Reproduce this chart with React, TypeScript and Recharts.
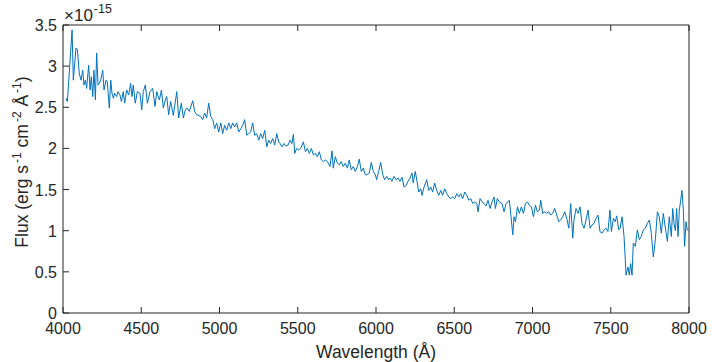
import { LineChart, Line, XAxis, YAxis } from "recharts";

// wavelength in Å, flux in units of 1e-15 erg s^-1 cm^-2 Å^-1
const wavelength = [
  4019, 4028, 4058, 4066, 4083, 4092, 4104, 4115, 4126, 4134, 4143, 4151, 4164, 4173, 4181, 4190,
  4198, 4207, 4215, 4224, 4232, 4241, 4254, 4262, 4275, 4283, 4296, 4305, 4313, 4322, 4330, 4343,
  4351, 4364, 4373, 4385, 4394, 4407, 4420, 4432, 4441, 4449, 4462, 4475, 4492, 4503, 4513, 4526,
  4539, 4556, 4573, 4588, 4599, 4616, 4629, 4641, 4654, 4663, 4675, 4688,
  4705, 4727, 4739, 4756, 4769, 4782, 4794, 4807, 4829, 4841, 4854, 4880, 4893, 4905, 4918, 4931,
  4944, 4957, 4969, 4982, 4995, 5008, 5020, 5033, 5046, 5059, 5072, 5084, 5097, 5110, 5123, 5136,
  5148, 5161, 5174, 5187, 5199, 5212, 5225, 5238, 5251, 5263, 5276, 5289, 5302, 5314, 5327, 5340,
  5353, 5366, 5378,
  5387, 5399, 5412, 5425, 5438, 5451, 5463, 5472, 5481, 5493, 5506, 5519, 5536, 5549, 5561, 5574,
  5587, 5600, 5612, 5625, 5638, 5651, 5663, 5676, 5689, 5706, 5719, 5727, 5740, 5753, 5766, 5778,
  5791, 5804, 5817, 5829, 5842, 5855, 5868, 5881, 5893, 5906, 5919, 5932, 5944, 5957, 5970, 5983,
  5996, 6004, 6017, 6030, 6043, 6055, 6068, 6081,
  6090, 6102, 6115, 6128, 6141, 6153, 6166, 6179, 6192, 6205, 6217, 6230, 6238, 6251, 6264, 6273,
  6286, 6294, 6307, 6324, 6337, 6350, 6362, 6375, 6388, 6401, 6414, 6426, 6439, 6452, 6465, 6478,
  6490, 6503, 6516, 6529, 6542, 6554, 6567, 6580, 6593, 6606, 6618, 6631, 6644, 6652, 6665, 6678,
  6690, 6703, 6716, 6729, 6741, 6754, 6763, 6775, 6788,
  6805, 6818, 6831, 6844, 6852, 6865, 6874, 6882, 6891, 6904, 6916, 6929, 6942, 6955, 6968, 6980,
  6993, 7006, 7019, 7031, 7044, 7053, 7065, 7078, 7091, 7104, 7116, 7129, 7142, 7155, 7168, 7180,
  7193, 7206, 7219, 7232, 7244, 7257, 7265, 7278, 7291, 7304, 7316, 7329, 7342, 7355, 7368, 7380,
  7393, 7406, 7419, 7431, 7444, 7457, 7470, 7482, 7495, 7504, 7517, 7529, 7538, 7551,
  7560, 7572, 7585, 7598, 7610, 7619, 7627, 7636, 7644, 7657, 7670, 7683, 7695, 7708, 7721, 7734,
  7747, 7759, 7772, 7785, 7798, 7810, 7823, 7836, 7849, 7862, 7874, 7887, 7896, 7904, 7913, 7921,
  7930, 7938, 7947, 7955, 7964, 7972, 7981, 7989, 7997,
];

const flux = [
  2.61, 2.57, 3.44, 2.83, 3.22, 3.2, 2.91, 2.83, 2.95, 2.77, 2.83, 2.73, 3.01, 2.71, 2.87, 2.63,
  2.95, 2.59, 3.16, 2.77, 2.79, 2.83, 2.95, 2.71, 2.83, 2.81, 2.49, 2.83, 2.67, 2.61, 2.67, 2.63,
  2.69, 2.65, 2.57, 2.69, 2.55, 2.71, 2.65, 2.79, 2.63, 2.77, 2.55, 2.69, 2.67, 2.47, 2.69, 2.77,
  2.55, 2.69, 2.73, 2.51, 2.69, 2.59, 2.71, 2.49, 2.59, 2.63, 2.41, 2.57,
  2.4, 2.69, 2.37, 2.55, 2.37, 2.47, 2.49, 2.45, 2.58, 2.45, 2.41, 2.39, 2.35, 2.43, 2.37, 2.55,
  2.39, 2.35, 2.24, 2.31, 2.2, 2.31, 2.18, 2.28, 2.22, 2.31, 2.24, 2.31, 2.26, 2.31, 2.2, 2.24,
  2.28, 2.35, 2.16, 2.18, 2.2, 2.31, 2.16, 2.18, 2.1, 2.18, 2.12, 2.22, 2.02, 2.1, 2.06, 2.12,
  2.04, 2.18, 2.08,
  2.06, 2.02, 2.06, 2.03, 2.04, 2.1, 2.06, 2.17, 1.94, 2.0, 1.98, 2.0, 2.08, 1.96, 2.0, 1.94,
  2.0, 1.92, 1.94, 1.9, 1.96, 1.86, 1.84, 1.86, 1.84, 1.78, 1.97, 1.76, 1.9, 1.82, 1.8, 1.84,
  1.78, 1.82, 1.76, 1.86, 1.74, 1.78, 1.72, 1.78, 1.87, 1.72, 1.76, 1.68, 1.68, 1.7, 1.83, 1.72,
  1.68, 1.62, 1.72, 1.83, 1.68, 1.62, 1.66, 1.62,
  1.64, 1.6, 1.66, 1.62, 1.64, 1.6, 1.65, 1.53, 1.55, 1.6, 1.64, 1.7, 1.58, 1.72, 1.58, 1.47,
  1.51, 1.43, 1.53, 1.62, 1.49, 1.53, 1.47, 1.58, 1.49, 1.43, 1.49, 1.43, 1.51, 1.45, 1.41, 1.39,
  1.41, 1.39, 1.45, 1.41, 1.45, 1.39, 1.47, 1.43, 1.37, 1.39, 1.33, 1.35, 1.33, 1.23, 1.39, 1.35,
  1.33, 1.3, 1.37, 1.27, 1.35, 1.41, 1.27, 1.39, 1.35,
  1.33, 1.23, 1.33, 1.35, 1.37, 1.13, 0.95, 1.17, 1.11, 1.29, 1.21, 1.29, 1.21, 1.33, 1.35, 1.31,
  1.29, 1.17, 1.31, 1.23, 1.25, 1.37, 1.21, 1.23, 1.21, 1.23, 1.19, 1.21, 1.27, 1.19, 1.11, 1.13,
  1.17, 1.23, 1.15, 1.03, 1.33, 0.91, 1.13, 1.27, 1.21, 1.29, 1.09, 1.03, 1.13, 1.25, 1.03, 1.07,
  1.09, 1.15, 1.19, 0.99, 0.97, 1.01, 1.03, 0.99, 1.25, 0.99, 1.15, 1.11, 1.18, 1.01,
  1.03, 1.17, 0.93, 0.46, 0.56, 0.46, 0.6, 0.46, 0.85, 0.81, 1.01, 0.89, 0.93, 1.01, 1.03, 1.09,
  1.13, 0.97, 0.68, 0.89, 1.23, 1.17, 0.97, 1.21, 1.03, 0.87, 1.17, 0.93, 1.27, 1.09, 1.0, 1.27,
  0.93, 1.25, 1.37, 1.49, 1.25, 0.81, 1.11, 1.01, 1.0,
];

const xTicks = [4000, 4500, 5000, 5500, 6000, 6500, 7000, 7500, 8000];
const yTicks = [0, 0.5, 1, 1.5, 2, 2.5, 3, 3.5];

const data = wavelength.map((w, i) => ({ w, f: flux[i] }));

const AXIS = "#262626";
const FONT = "'Liberation Sans', Arial, Helvetica, sans-serif";
const TICK_LEN = 6;

const BottomTick = (props: any) => {
  const { x, y, payload } = props;
  return (
    <g>
      <line x1={x} x2={x} y1={y} y2={y - TICK_LEN} stroke={AXIS} />
      <text x={x} y={y + 21} textAnchor="middle" fill={AXIS} fontSize={16}>
        {payload.value}
      </text>
    </g>
  );
};

// top axis has height 1, ticks point down into the plot
const TopTick = (props: any) => {
  const { x, y } = props;
  return <line x1={x} x2={x} y1={y} y2={y + TICK_LEN} stroke={AXIS} />;
};

const LeftTick = (props: any) => {
  const { x, y, payload } = props;
  return (
    <g>
      <line x1={x} x2={x + TICK_LEN} y1={y} y2={y} stroke={AXIS} />
      <text x={x - 6} y={y + 6} textAnchor="end" fill={AXIS} fontSize={16}>
        {payload.value}
      </text>
    </g>
  );
};

const RightTick = (props: any) => {
  const { x, y } = props;
  return <line x1={x} x2={x - TICK_LEN} y1={y} y2={y} stroke={AXIS} />;
};

const YTitle = () => (
  <text
    x={28}
    y={162}
    transform="rotate(-90 28 162)"
    textAnchor="middle"
    fill={AXIS}
    fontSize={17.5}
  >
    Flux (erg s
    <tspan dx={2} dy={-7} fontSize={12}>-1</tspan>
    <tspan dy={7}> cm</tspan>
    <tspan dx={2} dy={-7} fontSize={12}>-2</tspan>
    <tspan dy={7}> Å</tspan>
    <tspan dx={2} dy={-7} fontSize={12}>-1</tspan>
    <tspan dy={7}>)</tspan>
  </text>
);

const Exponent = () => (
  <text x={64} y={21} fill={AXIS} fontSize={17}>
    ×10
    <tspan dx={1} dy={-8} fontSize={12.5}>-15</tspan>
  </text>
);

const XTitle = () => (
  <text x={376} y={358} textAnchor="middle" fill={AXIS} fontSize={17.5}>
    Wavelength (Å)
  </text>
);

export default function App() {
  return (
    <div style={{ position: "absolute", left: 0, top: 0, background: "#fff" }}>
      <LineChart
        width={716}
        height={362}
        data={data}
        margin={{ top: 24, right: 26, bottom: 19, left: 23 }}
        style={{ fontFamily: FONT }}
      >
        <XAxis
          dataKey="w"
          type="number"
          domain={[4000, 8000]}
          ticks={xTicks}
          allowDataOverflow
          height={30}
          tickSize={0}
          tickMargin={0}
          tickLine={false}
          tick={<BottomTick />}
          axisLine={{ stroke: AXIS }}
          label={{ content: () => <XTitle /> }}
        />
        <XAxis
          xAxisId="top"
          orientation="top"
          dataKey="w"
          type="number"
          domain={[4000, 8000]}
          ticks={xTicks}
          height={1}
          tickSize={0}
          tickMargin={0}
          tickLine={false}
          tick={<TopTick />}
          axisLine={{ stroke: AXIS }}
          label={{ content: () => <Exponent /> }}
        />
        <YAxis
          type="number"
          domain={[0, 3.5]}
          ticks={yTicks}
          width={40}
          tickSize={0}
          tickMargin={0}
          tickLine={false}
          tick={<LeftTick />}
          axisLine={{ stroke: AXIS }}
          label={{ content: () => <YTitle /> }}
        />
        <YAxis
          yAxisId="right"
          orientation="right"
          type="number"
          domain={[0, 3.5]}
          ticks={yTicks}
          width={1}
          tickSize={0}
          tickMargin={0}
          tickLine={false}
          tick={<RightTick />}
          axisLine={{ stroke: AXIS }}
        />
        <Line
          type="linear"
          dataKey="f"
          stroke="#0072BD"
          strokeWidth={1}
          dot={false}
          isAnimationActive={false}
        />
      </LineChart>
    </div>
  );
}
